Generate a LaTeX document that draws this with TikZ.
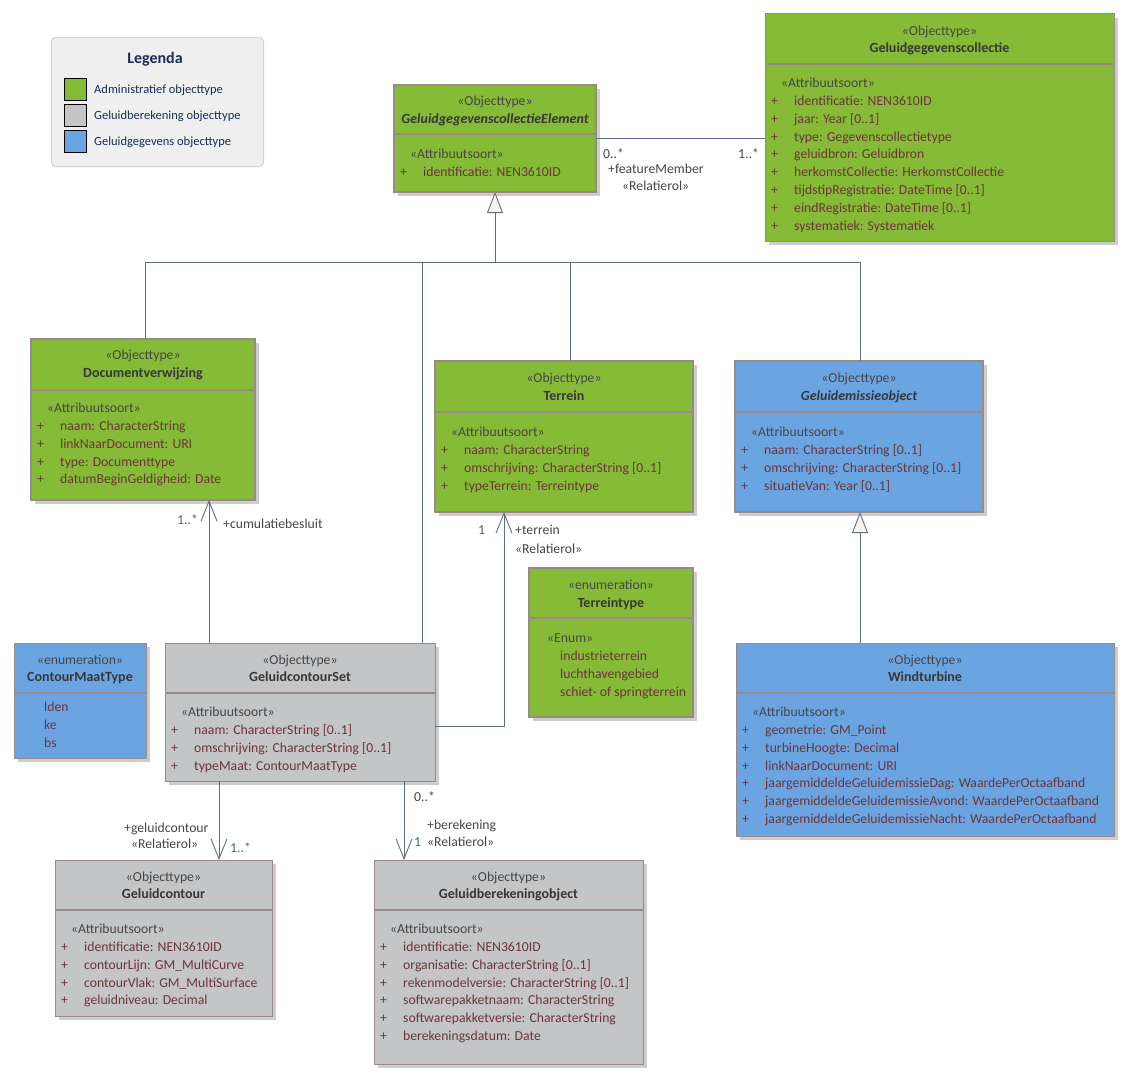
\documentclass[tikz,border=0pt]{standalone}
\usepackage{fontspec}
\setmainfont{Carlito}
\usepackage{tikz}
\usepackage{xcolor}
\usetikzlibrary{arrows.meta,shadows}
\definecolor{admgreen}{RGB}{133,187,54}
\definecolor{calcgray}{RGB}{196,197,199}
\definecolor{datablue}{RGB}{106,165,226}
\definecolor{boxline}{RGB}{155,136,136}
\definecolor{linkline}{RGB}{96,109,138}
\definecolor{attrred}{RGB}{108,52,58}
\definecolor{stereogray}{RGB}{70,70,70}
\definecolor{namegray}{RGB}{55,55,55}
\definecolor{multblue}{RGB}{72,98,140}
\definecolor{legendfill}{RGB}{239,239,239}
\definecolor{legendline}{RGB}{212,212,212}
\definecolor{legendtext}{RGB}{25,45,85}
\definecolor{genfill}{RGB}{252,243,232}
\definecolor{shadowgray}{RGB}{205,205,205}
\newcommand{\umlattr}[1]{\makebox[23pt][l]{+}#1}
\newcommand{\umlhead}[1]{\rule{0pt}{13pt}\hspace*{10pt}{\color{stereogray}#1}}

\begin{document}
\begin{tikzpicture}[x=1pt, y=-1pt,
  every node/.style={font=\fontsize{13.7}{17.8}\selectfont, inner sep=0pt},
  classbox/.style={draw=boxline, line width=1pt, anchor=north west, outer sep=0pt,
    drop shadow={shadow xshift=4pt, shadow yshift=-4pt, fill=shadowgray, opacity=1}},
  thickbox/.style={classbox, line width=2.2pt},
  divider/.style={draw=boxline, line width=1.3pt},
  stereo/.style={anchor=base, text=stereogray},
  cname/.style={anchor=base, text=namegray, font=\fontsize{14}{17.8}\selectfont\bfseries},
  attrs/.style={anchor=north west, align=left, text=attrred},
  rolelabel/.style={anchor=base west, text=stereogray},
  mult/.style={anchor=base west, text=multblue},
  link/.style={draw=linkline, line width=0.9pt},
  assoc/.style={link, -{Straight Barb[length=20pt,width=16pt]}},
  gener/.style={link, -{Triangle[length=21pt,width=16pt,fill=genfill]}},
  swatch/.style={draw=black, line width=1.3pt, anchor=north west, minimum size=22pt},
  legendlabel/.style={anchor=base west, text=legendtext, font=\fontsize{12.5}{15}\selectfont}]
\path[use as bounding box, fill=white] (0,0) rectangle (1132,1081);

% legend
\node[draw=legendline, fill=legendfill, rounded corners=4pt, line width=1pt, anchor=north west, minimum width=212pt, minimum height=129pt] (legend) at (51,37) {};
\node[anchor=base, text=legendtext, font=\fontsize{16}{19}\selectfont\bfseries] (legendtitle) at (155,63.5) {Legenda};
\node[swatch, fill=admgreen] (keyadm) at (64,78) {};
\node[swatch, fill=calcgray] (keycalc) at (64,104) {};
\node[swatch, fill=datablue] (keydata) at (64,130) {};
\node[legendlabel] (keyadmtext) at (94,93.5) {Administratief objecttype};
\node[legendlabel] (keycalctext) at (94,119.5) {Geluidberekening objecttype};
\node[legendlabel] (keydatatext) at (94,145.5) {Geluidgegevens objecttype};

% GeluidgegevenscollectieElement
\node[thickbox, fill=admgreen, minimum width=202pt, minimum height=107pt] (ggce) at (394,85) {};
\draw[divider] (ggce.west |- 0,134) -- (ggce.east |- 0,134);
\node[stereo] (ggcest) at (495,105.5) {«Objecttype»};
\node[cname] (ggcename) at (495,123.5) {\itshape GeluidgegevenscollectieElement};
\node[attrs] (ggceattr) at (400,145.5) {\umlhead{«Attribuutsoort»}\\
  \umlattr{identificatie: NEN3610ID}};

% Geluidgegevenscollectie
\node[classbox, fill=admgreen, minimum width=349pt, minimum height=227pt] (ggcol) at (765,14) {};
\draw[divider] (ggcol.west |- 0,64) -- (ggcol.east |- 0,64);
\node[stereo] (ggcolst) at (939.5,35.5) {«Objecttype»};
\node[cname] (ggcolname) at (939.5,52.5) {Geluidgegevenscollectie};
\node[attrs] (ggcolattr) at (771,74.5) {\umlhead{«Attribuutsoort»}\\
  \umlattr{identificatie: NEN3610ID}\\
  \umlattr{jaar: Year [0..1]}\\
  \umlattr{type: Gegevenscollectietype}\\
  \umlattr{geluidbron: Geluidbron}\\
  \umlattr{herkomstCollectie: HerkomstCollectie}\\
  \umlattr{tijdstipRegistratie: DateTime [0..1]}\\
  \umlattr{eindRegistratie: DateTime [0..1]}\\
  \umlattr{systematiek: Systematiek}};

% Documentverwijzing
\node[thickbox, fill=admgreen, minimum width=224pt, minimum height=161pt] (docv) at (31,339) {};
\draw[divider] (docv.west |- 0,390) -- (docv.east |- 0,390);
\node[stereo] (docvst) at (143,359.5) {«Objecttype»};
\node[cname] (docvname) at (143,377.5) {Documentverwijzing};
\node[attrs] (docvattr) at (37,399.5) {\umlhead{«Attribuutsoort»}\\
  \umlattr{naam: CharacterString}\\
  \umlattr{linkNaarDocument: URI}\\
  \umlattr{type: Documenttype}\\
  \umlattr{datumBeginGeldigheid: Date}};

% Terrein
\node[thickbox, fill=admgreen, minimum width=258pt, minimum height=151pt] (terrein) at (435,361) {};
\draw[divider] (terrein.west |- 0,412) -- (terrein.east |- 0,412);
\node[stereo] (terreinst) at (564,382.5) {«Objecttype»};
\node[cname] (terreinname) at (564,400.5) {Terrein};
\node[attrs] (terreinattr) at (441,423.5) {\umlhead{«Attribuutsoort»}\\
  \umlattr{naam: CharacterString}\\
  \umlattr{omschrijving: CharacterString [0..1]}\\
  \umlattr{typeTerrein: Terreintype}};

% Geluidemissieobject
\node[thickbox, fill=datablue, minimum width=248pt, minimum height=151pt] (gemo) at (735,361) {};
\draw[divider] (gemo.west |- 0,412) -- (gemo.east |- 0,412);
\node[stereo] (gemost) at (859,382.5) {«Objecttype»};
\node[cname] (gemoname) at (859,400.5) {\itshape Geluidemissieobject};
\node[attrs] (gemoattr) at (741,423.5) {\umlhead{«Attribuutsoort»}\\
  \umlattr{naam: CharacterString [0..1]}\\
  \umlattr{omschrijving: CharacterString [0..1]}\\
  \umlattr{situatieVan: Year [0..1]}};

% Terreintype
\node[thickbox, fill=admgreen, minimum width=164pt, minimum height=149pt] (ttype) at (529,568) {};
\draw[divider] (ttype.west |- 0,618) -- (ttype.east |- 0,618);
\node[stereo] (ttypest) at (611,589.5) {«enumeration»};
\node[cname] (ttypename) at (611,607.5) {Terreintype};
\node[attrs] (ttypeattr) at (547,629.5) {\rule{0pt}{13pt}{\color{stereogray}«Enum»}\\
  \hspace*{13pt}industrieterrein\\
  \hspace*{13pt}luchthavengebied\\
  \hspace*{13pt}schiet- of springterrein};

% ContourMaatType
\node[classbox, fill=datablue, minimum width=132pt, minimum height=115pt] (cmt) at (14,643) {};
\draw[divider] (cmt.west |- 0,693) -- (cmt.east |- 0,693);
\node[stereo] (cmtst) at (80,664.5) {«enumeration»};
\node[cname] (cmtname) at (80,681.5) {ContourMaatType};
\node[attrs] (cmtattr) at (44,698.5) {\rule{0pt}{13pt}lden\\ ke\\ bs};

% GeluidcontourSet
\node[classbox, fill=calcgray, minimum width=270pt, minimum height=138pt] (gcs) at (165,643) {};
\draw[divider] (gcs.west |- 0,693) -- (gcs.east |- 0,693);
\node[stereo] (gcsst) at (300,664.5) {«Objecttype»};
\node[cname] (gcsname) at (300,681.5) {GeluidcontourSet};
\node[attrs] (gcsattr) at (171,703.5) {\umlhead{«Attribuutsoort»}\\
  \umlattr{naam: CharacterString [0..1]}\\
  \umlattr{omschrijving: CharacterString [0..1]}\\
  \umlattr{typeMaat: ContourMaatType}};

% Windturbine
\node[classbox, fill=datablue, minimum width=378pt, minimum height=193pt] (wind) at (736,643) {};
\draw[divider] (wind.west |- 0,693) -- (wind.east |- 0,693);
\node[stereo] (windst) at (925,664.5) {«Objecttype»};
\node[cname] (windname) at (925,681.5) {Windturbine};
\node[attrs] (windattr) at (742,703.5) {\umlhead{«Attribuutsoort»}\\
  \umlattr{geometrie: GM\_Point}\\
  \umlattr{turbineHoogte: Decimal}\\
  \umlattr{linkNaarDocument: URI}\\
  \umlattr{jaargemiddeldeGeluidemissieDag: WaardePerOctaafband}\\
  \umlattr{jaargemiddeldeGeluidemissieAvond: WaardePerOctaafband}\\
  \umlattr{jaargemiddeldeGeluidemissieNacht: WaardePerOctaafband}};

% Geluidcontour
\node[classbox, fill=calcgray, minimum width=217pt, minimum height=156pt] (gcont) at (55,860) {};
\draw[divider] (gcont.west |- 0,910) -- (gcont.east |- 0,910);
\node[stereo] (gcontst) at (163.5,881.5) {«Objecttype»};
\node[cname] (gcontname) at (163.5,898.5) {Geluidcontour};
\node[attrs] (gcontattr) at (61,920.5) {\umlhead{«Attribuutsoort»}\\
  \umlattr{identificatie: NEN3610ID}\\
  \umlattr{contourLijn: GM\_MultiCurve}\\
  \umlattr{contourVlak: GM\_MultiSurface}\\
  \umlattr{geluidniveau: Decimal}};

% Geluidberekeningobject
\node[classbox, fill=calcgray, minimum width=269pt, minimum height=204pt] (gbo) at (374,860) {};
\draw[divider] (gbo.west |- 0,910) -- (gbo.east |- 0,910);
\node[stereo] (gbost) at (508.5,881.5) {«Objecttype»};
\node[cname] (gboname) at (508.5,898.5) {Geluidberekeningobject};
\node[attrs] (gboattr) at (380,920.5) {\umlhead{«Attribuutsoort»}\\
  \umlattr{identificatie: NEN3610ID}\\
  \umlattr{organisatie: CharacterString [0..1]}\\
  \umlattr{rekenmodelversie: CharacterString [0..1]}\\
  \umlattr{softwarepakketnaam: CharacterString}\\
  \umlattr{softwarepakketversie: CharacterString}\\
  \umlattr{berekeningsdatum: Date}};

% generalisations
\coordinate (gentrunk) at (495,262);
\draw[gener] (gentrunk) -- (ggce.south);
\draw[link] (docv.north -| 145,0) |- (gentrunk);
\draw[link] (gcs.north -| 422,0) |- (gentrunk);
\draw[link] (terrein.north -| 570,0) |- (gentrunk);
\draw[link] (gemo.north -| 860,0) |- (gentrunk);
\draw[gener] (wind.north -| 860,0) -- (gemo.south -| 860,0);

% associations
\draw[link] (ggce.east) -- (ggce.east -| ggcol.west);
\node[rolelabel] (featsrc) at (603,158.5) {0..*};
\node[rolelabel] (featrole) at (608,173) {+featureMember};
\node[rolelabel] (featstereo) at (622,190) {«Relatierol»};
\node[rolelabel] (feattgt) at (738,158.5) {1..*};

\draw[assoc] (gcs.north -| 209,0) -- (docv.south -| 209,0);
\node[mult] (cumtgt) at (177,524) {1..*};
\node[rolelabel] (cumrole) at (223,528) {+cumulatiebesluit};

\draw[assoc] (gcs.east |- 0,726) -| (terrein.south -| 504,0);
\node[mult] (terrtgt) at (478,534) {1};
\node[rolelabel] (terrrole) at (515,534) {+terrein};
\node[rolelabel] (terrstereo) at (515,553) {«Relatierol»};

\draw[assoc] (gcs.south -| 219,0) -- (gcont.north -| 219,0);
\node[rolelabel] (controle) at (124,832) {+geluidcontour};
\node[rolelabel] (contstereo) at (131,848) {«Relatierol»};
\node[mult] (conttgt) at (230,852) {1..*};

\draw[assoc] (gcs.south -| 404,0) -- (gbo.north -| 404,0);
\node[rolelabel] (bereksrc) at (414,801) {0..*};
\node[rolelabel] (berekrole) at (427,829) {+berekening};
\node[rolelabel] (berekstereo) at (427,846) {«Relatierol»};
\node[mult] (berektgt) at (414,846) {1};
\end{tikzpicture}
\end{document}
